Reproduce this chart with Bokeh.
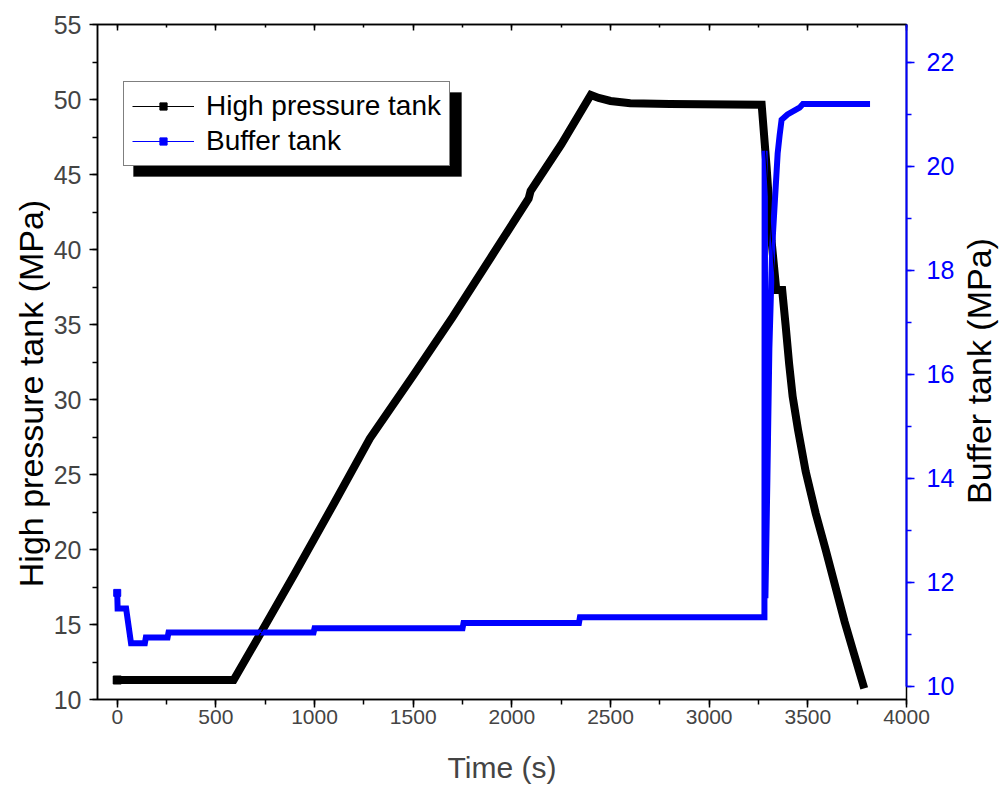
import math
from bokeh.plotting import figure
from bokeh.layouts import row
from bokeh.models import (Range1d, LinearAxis, Legend, LegendItem, SingleIntervalTicker,
                          Label, BoxAnnotation)
from bokeh.embed import file_html
from bokeh.resources import INLINE

# ---- data ----
time_hp = [0, 590, 700, 900, 1100, 1280, 1500, 1700, 1900, 2085, 2095, 2250, 2400,
           2440, 2500, 2600, 2800, 3266, 3291, 3316, 3340, 3370, 3387, 3405, 3423,
           3450, 3489, 3540, 3590, 3640, 3686, 3735, 3780]
hp_pressure = [11.3, 11.3, 13.8, 18.4, 23.1, 27.4, 31.6, 35.5, 39.6, 43.4, 43.9, 47.0, 50.3,
               50.1, 49.9, 49.75, 49.7, 49.65, 45.5, 40.6, 37.3, 37.3, 35.0, 32.4, 30.2,
               28.0, 25.2, 22.4, 20.0, 17.5, 15.2, 13.0, 11.0]

time_buf = [0, 2, 45, 70, 140, 145, 255, 260, 995, 1000, 1750, 1755, 2340, 2345, 3280,
            3281, 3282, 3283, 3285, 3295, 3305, 3320, 3347, 3357, 3367, 3397, 3458, 3475, 3800]
buf_pressure = [11.8, 11.5, 11.5, 10.83, 10.83, 10.94, 10.94, 11.04, 11.04, 11.12, 11.12, 11.22,
                11.22, 11.33, 11.33, 20.3, 19.9, 17.4, 11.7, 14.0, 16.5, 18.5, 20.25, 20.6,
                20.9, 21.0, 21.13, 21.2, 21.2]

series_names = ["High pressure tank", "Buffer tank"]
x_title = "Time (s)"
left_title = "High pressure tank (MPa)"
right_title = "Buffer tank (MPa)"

BLUE = "#0000ff"
FONT = "Liberation Sans"
H = 786
TOP, BOTTOM = 24, 87

def title_strip(width, text, xpos, ypos):
    s = figure(width=width, height=H, x_range=Range1d(0, 1), y_range=Range1d(10, 55),
               output_backend="svg", toolbar_location=None,
               min_border_left=0, min_border_right=0, min_border_top=TOP, min_border_bottom=BOTTOM)
    s.axis.visible = False
    s.grid.visible = False
    s.outline_line_color = None
    s.background_fill_color = "white"
    s.border_fill_color = "white"
    s.add_layout(Label(x=xpos, y=ypos, text=text, angle=math.pi / 2,
                       text_align="center", text_baseline="middle",
                       text_font=FONT, text_font_size="34px", text_color="black"))
    return s

p = figure(width=907, height=H, x_range=Range1d(-100, 4000), y_range=Range1d(10, 55),
           output_backend="svg", toolbar_location=None,
           min_border_left=47, min_border_right=49, min_border_top=TOP, min_border_bottom=BOTTOM)
p.extra_y_ranges = {"buf": Range1d(9.75, 22.73)}
p.xgrid.visible = False
p.ygrid.visible = False
p.outline_line_color = "black"
p.outline_line_width = 1.5
p.background_fill_color = "white"
p.border_fill_color = "white"

# bottom axis
xa = p.xaxis[0]
xa.ticker = SingleIntervalTicker(interval=500, num_minor_ticks=2)
xa.axis_label = x_title
xa.axis_line_width = 1.5
xa.major_tick_out = 8
xa.major_tick_in = 0
xa.minor_tick_out = 5
xa.minor_tick_in = 0
xa.major_tick_line_width = 1.5
xa.minor_tick_line_width = 1.5
xa.major_label_text_font = FONT
xa.major_label_text_font_size = "21px"
xa.major_label_standoff = 2
xa.axis_label_text_font = FONT
xa.axis_label_text_font_size = "30px"
xa.axis_label_text_font_style = "normal"
xa.axis_label_standoff = 24

# left axis (title drawn in the left strip)
ya = p.yaxis[0]
ya.ticker = SingleIntervalTicker(interval=5, num_minor_ticks=2)
ya.axis_line_width = 1.5
ya.major_tick_out = 8
ya.major_tick_in = 0
ya.minor_tick_out = 5
ya.minor_tick_in = 0
ya.major_tick_line_width = 1.5
ya.minor_tick_line_width = 1.5
ya.major_label_text_font = FONT
ya.major_label_text_font_size = "25px"
ya.major_label_standoff = 8

# top axis (inward ticks, no labels)
ta = LinearAxis(ticker=SingleIntervalTicker(interval=500, num_minor_ticks=2),
                major_label_text_font_size="1px", major_label_text_color=None,
                major_label_standoff=0, axis_line_width=1.5,
                major_tick_in=6, major_tick_out=0, minor_tick_in=3, minor_tick_out=0,
                major_tick_line_width=1.5, minor_tick_line_width=1.5)
p.add_layout(ta, "above")

# right axis (blue)
ra = LinearAxis(y_range_name="buf", ticker=SingleIntervalTicker(interval=2, num_minor_ticks=2),
                bounds=(10, 22.73),
                axis_line_color=BLUE, axis_line_width=2,
                major_tick_line_color=BLUE, minor_tick_line_color=BLUE,
                major_tick_line_width=1.5, minor_tick_line_width=1.5,
                major_tick_out=8, major_tick_in=0, minor_tick_out=5, minor_tick_in=0,
                major_label_text_color=BLUE, major_label_text_font=FONT,
                major_label_text_font_size="25px", major_label_standoff=12)
p.add_layout(ra, "right")

# data: thick lines made of dense square markers in the original
p.line(time_hp, hp_pressure, line_color="black", line_width=8,
       line_join="miter", line_cap="square")
p.line(time_buf, buf_pressure, line_color=BLUE, line_width=6,
       line_join="miter", line_cap="square", y_range_name="buf")
l1 = p.line(time_hp, hp_pressure, line_color="black", line_width=1.2)
s1 = p.scatter(time_hp[:1], hp_pressure[:1], marker="square", size=8,
               fill_color="black", line_color="black")
l2 = p.line(time_buf, buf_pressure, line_color=BLUE, line_width=1.2, y_range_name="buf")
s2 = p.scatter(time_buf[:1], buf_pressure[:1], marker="square", size=7,
               fill_color=BLUE, line_color=BLUE, y_range_name="buf")

# legend with its black drop shadow
p.add_layout(BoxAnnotation(left=36, right=364, bottom=523, top=607,
                           left_units="screen", right_units="screen",
                           bottom_units="screen", top_units="screen",
                           fill_color="black", fill_alpha=1.0, line_color="black"))
legend = Legend(items=[LegendItem(label=series_names[0], renderers=[l1, s1]),
                       LegendItem(label=series_names[1], renderers=[l2, s2])],
                location=(26, 533), orientation="vertical",
                label_text_font=FONT, label_text_font_size="28px",
                glyph_width=62, glyph_height=18, label_standoff=12,
                padding=8, spacing=3, margin=0,
                border_line_color="black", border_line_width=1.2,
                background_fill_color="white", background_fill_alpha=1.0,
                label_text_color="black")
p.add_layout(legend, "center")

left_strip = title_strip(50, left_title, 0.6, 30.4)
right_strip = title_strip(42, right_title, 0.5, 31.9)

layout = row(left_strip, p, right_strip)
open("out.html", "w").write(file_html(layout, INLINE))
